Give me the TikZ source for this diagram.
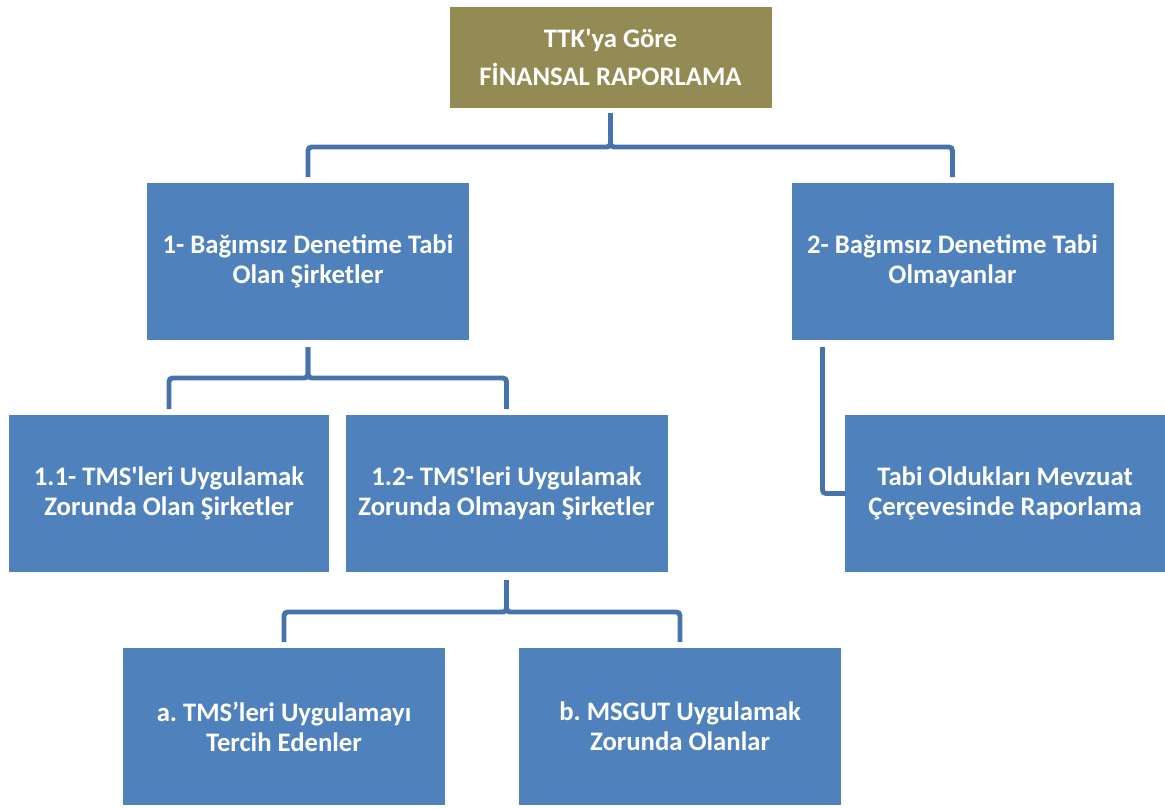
\documentclass[tikz,border=0pt]{standalone}
\usepackage{fontspec}
\setmainfont{Carlito}[Ligatures=TeXOff]
\definecolor{boxblue}{HTML}{4F81BD}
\definecolor{boxolive}{HTML}{948A54}
\definecolor{lineblue}{HTML}{4673AB}
\tikzset{
  box/.style={rectangle,fill=boxblue,text=white,font=\bfseries\fontsize{15.2}{17}\selectfont,
    align=center,minimum width=6.44cm,minimum height=3.14cm,inner sep=0pt,outer sep=0pt},
  conn/.style={draw=lineblue,line width=2.8pt,rounded corners=2pt}
}
\frenchspacing
\begin{document}
\begin{tikzpicture}
        \useasboundingbox (0,0) rectangle (23.3,-16.16);
        %% Root
        \node[box,fill=boxolive,minimum height=2.02cm,font=\bfseries\fontsize{15.2}{21.6}\selectfont] (ttk) at (12.21,-1.15) {TTK'ya Göre\\FİNANSAL RAPORLAMA};
        %% First level
        \node[box] (bdt) at (6.16,-5.23) {1- Bağımsız Denetime Tabi\\Olan Şirketler};
        \node[box] (bdo) at (19.05,-5.23) {2- Bağımsız Denetime Tabi\\Olmayanlar};
        %% Second level
        \node[box,minimum width=6.4cm] (tmsu) at (3.38,-9.87) {1.1- TMS'leri Uygulamak\\Zorunda Olan Şirketler};
        \node[box] (tmso) at (10.13,-9.87) {1.2- TMS'leri Uygulamak\\Zorunda Olmayan Şirketler};
        \node[box,minimum width=6.4cm] (mevzuat) at (20.1,-9.87) {Tabi Oldukları Mevzuat\\Çerçevesinde Raporlama};
        %% Third level
        \node[box] (tercih) at (5.68,-14.53) {a. TMS’leri Uygulamayı\\Tercih Edenler};
        \node[box] (msgut) at (13.6,-14.53) {b. MSGUT Uygulamak\\Zorunda Olanlar};
        %% Connectors
        \draw[conn,shorten <=0.1cm,shorten >=0.12cm] (ttk.south) -- ++(0,-0.78) -| (bdt.north);
        \draw[conn,shorten <=0.1cm,shorten >=0.12cm] (ttk.south) -- ++(0,-0.78) -| (bdo.north);
        \draw[conn,shorten <=0.14cm,shorten >=0.12cm] (bdt.south) -- ++(0,-0.76) -| (tmsu.north);
        \draw[conn,shorten <=0.14cm,shorten >=0.12cm] (bdt.south) -- ++(0,-0.76) -| (tmso.north);
        \draw[conn,shorten <=0.16cm,shorten >=0.12cm] (tmso.south) -- ++(0,-0.8) -| (tercih.north);
        \draw[conn,shorten <=0.16cm,shorten >=0.12cm] (tmso.south) -- ++(0,-0.8) -| (msgut.north);
        \draw[conn,shorten <=0.14cm] ([xshift=0.62cm]bdo.south west) |- (mevzuat.west);
\end{tikzpicture}
\end{document}
